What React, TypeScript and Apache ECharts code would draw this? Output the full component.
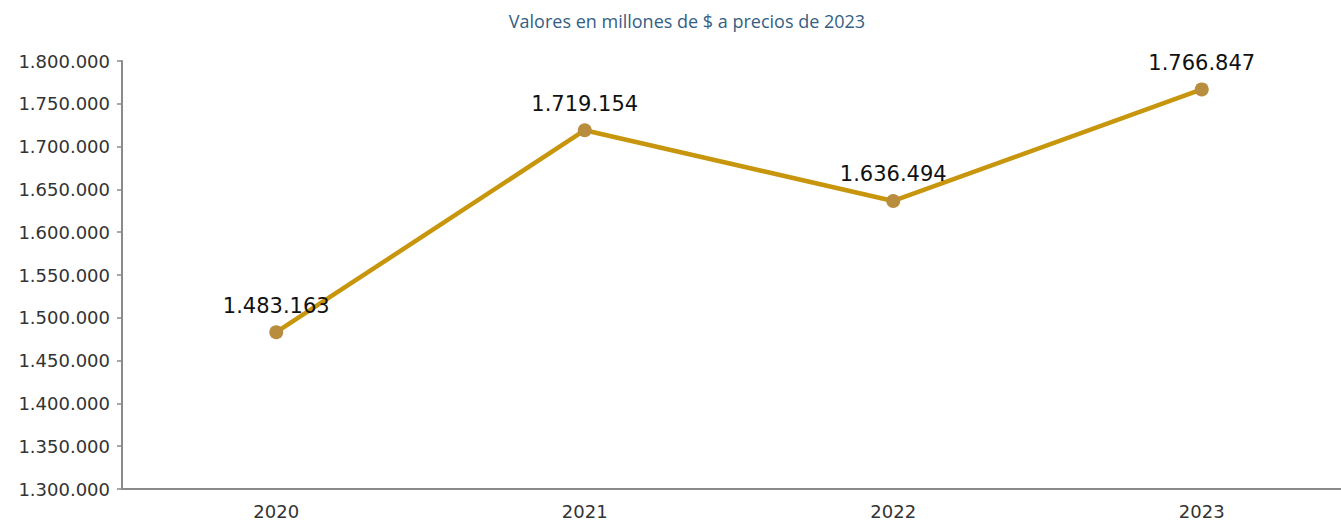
import React, { useEffect, useRef } from "react";
import * as echarts from "echarts";

const titleText = "Valores en millones de $ a precios de 2023";
const years = ["2020", "2021", "2022", "2023"];
const values = [1483163, 1719154, 1636494, 1766847];
const yMin = 1300000;
const yMax = 1800000;
const yStep = 50000;

const fmt = (v: number) =>
  Math.round(v)
    .toString()
    .replace(/\B(?=(\d{3})+(?!\d))/g, ".");

export default function App() {
  const ref = useRef<HTMLDivElement>(null);
  useEffect(() => {
    if (!ref.current) return;
    const chart = echarts.init(ref.current, undefined, { renderer: "svg" });
    chart.setOption({
      animation: false,
      title: {
        text: titleText,
        left: 682,
        textAlign: "center",
        top: 7,
        textStyle: {
          fontFamily: "Open Sans",
          fontSize: 18,
          fontWeight: "normal",
          color: "#356083",
        },
      },
      grid: { left: 122, right: 0, top: 61, bottom: 33, containLabel: false },
      xAxis: {
        type: "category",
        data: years,
        boundaryGap: true,
        axisLine: { lineStyle: { color: "#8a8a8a", width: 2 } },
        axisTick: { show: false },
        axisLabel: {
          fontFamily: "DejaVu Sans",
          fontSize: 18,
          color: "#333333",
          margin: 13,
        },
        splitLine: { show: false },
      },
      yAxis: {
        type: "value",
        min: yMin,
        max: yMax,
        interval: yStep,
        axisLine: { show: true, lineStyle: { color: "#8a8a8a", width: 2 } },
        axisTick: { show: true, length: 5, lineStyle: { color: "#8a8a8a", width: 1.5 } },
        axisLabel: {
          fontFamily: "DejaVu Sans",
          fontSize: 18,
          color: "#333333",
          margin: 12,
          formatter: (v: number) => fmt(v),
        },
        splitLine: { show: false },
      },
      series: [
        {
          type: "line",
          data: values,
          lineStyle: { color: "#c8960c", width: 4.5 },
          itemStyle: { color: "#b88d3d" },
          symbol: "circle",
          symbolSize: 14,
          label: {
            show: true,
            position: "top",
            distance: 9,
            fontFamily: "DejaVu Sans",
            fontSize: 21,
            color: "#111111",
            formatter: (p: any) => fmt(p.value),
          },
        },
      ],
    });
    return () => chart.dispose();
  }, []);
  return (
    <div
      style={{ position: "absolute", left: 0, top: 0, width: 1341, height: 522, overflow: "hidden", background: "#ffffff" }}
    >
      <div ref={ref} style={{ width: 1356, height: 522 }} />
    </div>
  );
}
